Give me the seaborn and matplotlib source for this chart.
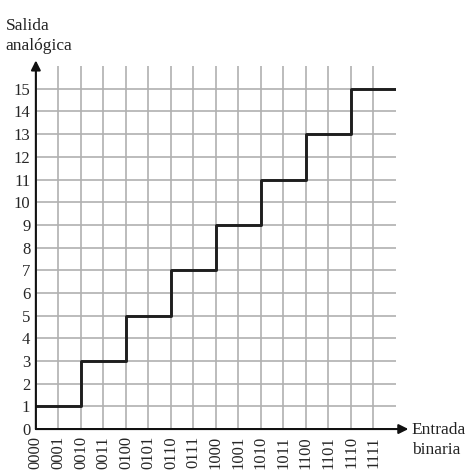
import numpy as np
import pandas as pd
import seaborn as sns
import matplotlib.pyplot as plt

# binary input codes and analog output levels
codes = ['0000', '0001', '0010', '0011', '0100', '0101', '0110', '0111',
         '1000', '1001', '1010', '1011', '1100', '1101', '1110', '1111']
levels = [1, 1, 3, 3, 5, 5, 7, 7, 9, 9, 11, 11, 13, 13, 15, 15]
y_ticks = list(range(0, 16))

sns.set_style('white')
plt.rcParams['font.family'] = ['Liberation Serif', 'DejaVu Serif']

fig = plt.figure(figsize=(4.72, 4.72), dpi=100)
ax = fig.add_axes([0.076, 0.091, 0.763, 0.769])

# step continues one code past the last one
df = pd.DataFrame({'x': np.arange(len(codes) + 1),
                   'y': levels + [levels[-1]]})
sns.lineplot(data=df, x='x', y='y', ax=ax, drawstyle='steps-post',
             color='#1e1e1e', linewidth=2.1, zorder=3)

ax.set_xlim(0, 16)
ax.set_ylim(0, 16)
ax.set_xticks(range(len(codes)))
ax.set_xticklabels(codes, rotation=90, fontsize=12)
ax.set_yticks(y_ticks)
ax.set_yticklabels([str(v) for v in y_ticks], fontsize=12)
ax.grid(True, color='#b0b0b0', linewidth=1.2)
ax.set_axisbelow(True)
ax.tick_params(direction='in', length=9, width=1.3, color='#1e1e1e')
ax.tick_params(axis='x', pad=5)
ax.tick_params(axis='y', pad=4)
ax.set_xlabel('')
ax.set_ylabel('')
for s in ax.spines.values():
    s.set_visible(False)

# axes with arrow heads
ax.annotate('', xy=(16.55, 0), xytext=(0, 0), annotation_clip=False,
            arrowprops=dict(arrowstyle='-|>', color='#111111', lw=1.5,
                            mutation_scale=14, shrinkA=0, shrinkB=0))
ax.annotate('', xy=(0, 16.25), xytext=(0, 0), annotation_clip=False,
            arrowprops=dict(arrowstyle='-|>', color='#111111', lw=1.5,
                            mutation_scale=14, shrinkA=0, shrinkB=0))

fig.text(0.012, 0.885, 'Salida\nanalógica', fontsize=12.5, ha='left',
         va='bottom', linespacing=1.35, color='#222222')
fig.text(0.872, 0.03, 'Entrada\nbinaria', fontsize=12.5, ha='left',
         va='bottom', linespacing=1.35, color='#222222')

fig.savefig('out.png', dpi=100)
